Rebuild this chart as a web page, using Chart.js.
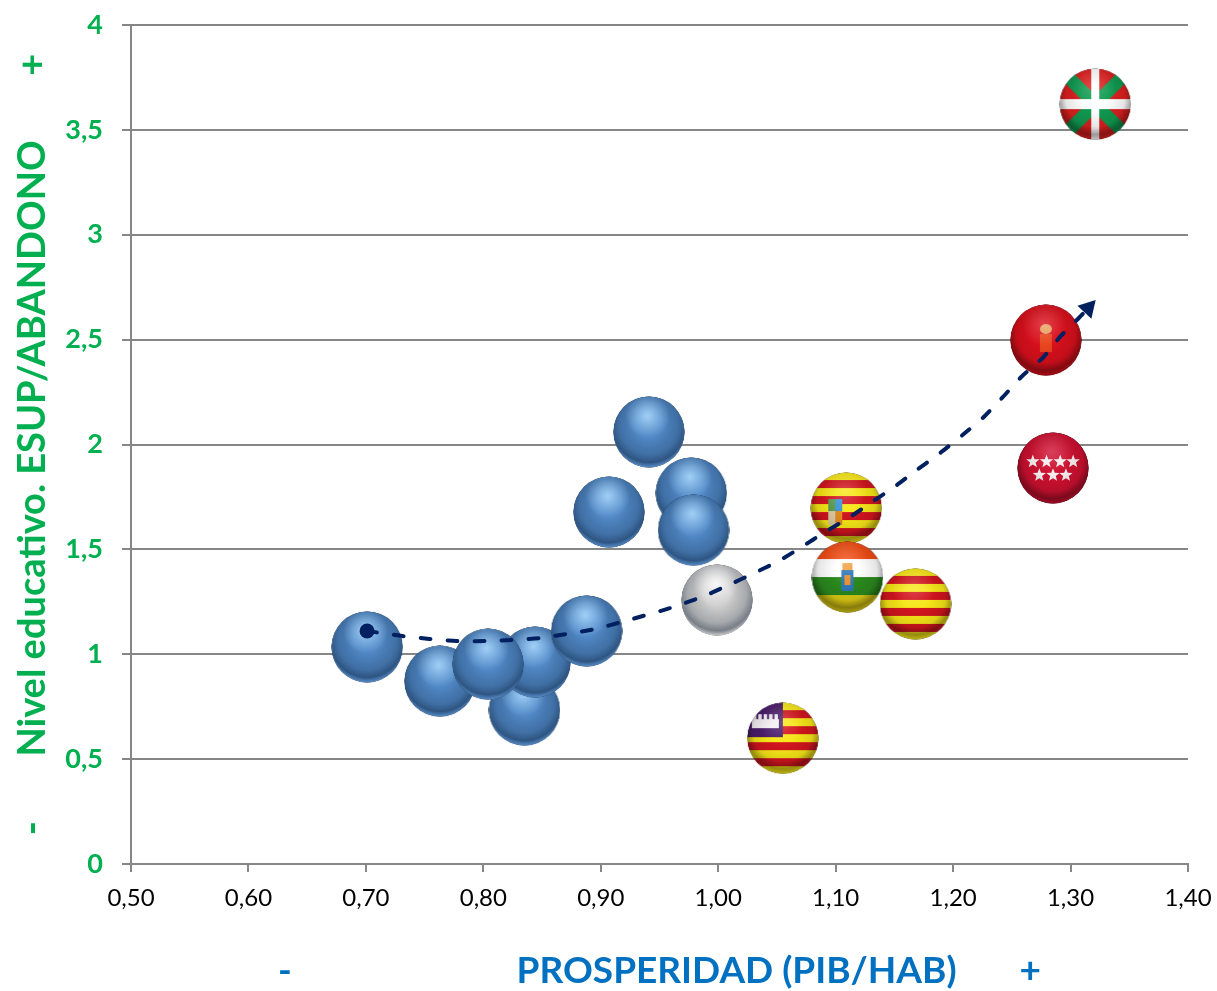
<!DOCTYPE html>
<html>
<head>
<meta charset="utf-8">
<title>Nivel educativo y prosperidad</title>
<script src="https://cdn.jsdelivr.net/npm/chart.js@4"></script>
<style>
body { margin: 0; background: #fff; }
canvas { display: block; }
</style>
</head>
<body>
<canvas id="myChart" width="1217" height="991"></canvas>
<script>
// region spheres, listed back to front
var sphereKinds = ['blue', 'blue', 'blue', 'blue', 'blue', 'blue', 'blue', 'blue', 'silver', 'blue', 'blue',
    'aragon', 'rioja', 'catalonia', 'baleares', 'euskadi', 'navarra', 'madrid'];
var sphereX = [0.835, 0.844, 0.763, 0.804, 0.701, 0.888, 0.941, 0.907, 0.999, 0.977, 0.979,
    1.109, 1.110, 1.168, 1.055, 1.321, 1.279, 1.285];
var sphereY = [0.734, 0.963, 0.872, 0.953, 1.035, 1.111, 2.060, 1.678, 1.259, 1.769, 1.592,
    1.697, 1.368, 1.240, 0.600, 3.623, 2.498, 1.888];

// trend line
var trendX = [0.701, 0.731, 0.754, 0.777, 0.801, 0.824, 0.848, 0.871, 0.895, 0.918, 0.959, 0.986, 1.007, 1.029,
    1.050, 1.071, 1.091, 1.111, 1.131, 1.151, 1.169, 1.189, 1.208, 1.227, 1.244, 1.258, 1.277, 1.291, 1.307, 1.315];
var trendY = [1.111, 1.087, 1.073, 1.063, 1.063, 1.068, 1.077, 1.097, 1.120, 1.154, 1.220, 1.273, 1.325, 1.383,
    1.440, 1.511, 1.583, 1.650, 1.726, 1.802, 1.878, 1.960, 2.045, 2.136, 2.236, 2.322, 2.417, 2.513, 2.603, 2.650];

var xTickLabels = ['0,50', '0,60', '0,70', '0,80', '0,90', '1,00', '1,10', '1,20', '1,30', '1,40'];
var yTickLabels = ['0', '0,5', '1', '1,5', '2', '2,5', '3', '3,5', '4'];

var xTitle = '-                         PROSPERIDAD (PIB/HAB)       +';
var yTitle = '-       Nivel educativo. ESUP/ABANDONO       +';

var GREEN = '#00B050', BLUE = '#0070C0', GRID = '#868686', NAVY = '#002060';
var RED = '#d2151f', YELLOW = '#f7e718';
var SIZE = 72;

function stripes(c) {
    for (var i = 0; i < 9; i++) {
        c.fillStyle = i % 2 ? RED : YELLOW;
        c.fillRect(0, i * SIZE / 9, SIZE, SIZE / 9 + 0.5);
    }
}

function star(c, x, y, r) {
    c.beginPath();
    for (var i = 0; i < 10; i++) {
        var a = -Math.PI / 2 + i * Math.PI / 5, d = i % 2 ? r * 0.42 : r;
        c.lineTo(x + d * Math.cos(a), y + d * Math.sin(a));
    }
    c.closePath();
    c.fill();
}

var painters = {
    blue: function(c) { c.fillStyle = '#5088c6'; c.fillRect(0, 0, SIZE, SIZE); },
    silver: function(c) { c.fillStyle = '#d0d0d0'; c.fillRect(0, 0, SIZE, SIZE); },
    catalonia: stripes,
    aragon: function(c) {
        stripes(c);
        c.fillStyle = '#d9c9a0'; c.fillRect(18, 27, 14, 26);
        c.fillStyle = '#3d94d6'; c.fillRect(25, 27, 7, 12);
        c.fillStyle = '#e08a20'; c.fillRect(25, 39, 7, 14);
        c.fillStyle = '#5a9a50'; c.fillRect(18, 27, 7, 12);
    },
    baleares: function(c) {
        stripes(c);
        c.fillStyle = '#4a1c6a'; c.fillRect(0, 0, 36, 35);
        c.fillStyle = '#f4f0f4'; c.fillRect(5, 17, 27, 9);
        for (var i = 0; i < 5; i++) { c.fillRect(6 + i * 5.4, 12, 3.4, 6); }
    },
    rioja: function(c) {
        c.fillStyle = '#f04c14'; c.fillRect(0, 0, SIZE, 18);
        c.fillStyle = '#ffffff'; c.fillRect(0, 18, SIZE, 18);
        c.fillStyle = '#2b8a1e'; c.fillRect(0, 36, SIZE, 18);
        c.fillStyle = '#e0ce14'; c.fillRect(0, 54, SIZE, 18);
        c.fillStyle = '#f0a040'; c.fillRect(31, 22, 10, 7);
        c.fillStyle = '#2f78b8'; c.fillRect(30, 29, 12, 21);
        c.fillStyle = '#e89030'; c.fillRect(33, 34, 6, 10);
    },
    euskadi: function(c) {
        c.fillStyle = '#dd2020'; c.fillRect(0, 0, SIZE, SIZE);
        c.strokeStyle = '#109a50'; c.lineWidth = 13;
        c.beginPath();
        c.moveTo(0, 0); c.lineTo(SIZE, SIZE);
        c.moveTo(SIZE, 0); c.lineTo(0, SIZE);
        c.stroke();
        c.fillStyle = '#ffffff';
        c.fillRect(32, 0, 8, SIZE);
        c.fillRect(0, 31, SIZE, 10);
    },
    navarra: function(c) {
        c.fillStyle = '#d8101c'; c.fillRect(0, 0, SIZE, SIZE);
        c.fillStyle = '#e8a060';
        c.beginPath(); c.ellipse(36, 25, 6, 5, 0, 0, Math.PI * 2); c.fill();
        c.fillStyle = '#e8441e'; c.fillRect(30, 30, 12, 18);
    },
    madrid: function(c) {
        c.fillStyle = '#cc1030'; c.fillRect(0, 0, SIZE, SIZE);
        c.fillStyle = '#f6eeee';
        [0.22, 0.41, 0.6, 0.78].forEach(function(p) { star(c, p * SIZE, 0.41 * SIZE, 7); });
        [0.31, 0.5, 0.68].forEach(function(p) { star(c, p * SIZE, 0.6 * SIZE, 7); });
    }
};

// flat picture on a round clip, then the 3D shading over it
function makeSphere(kind) {
    var flatCv = document.createElement('canvas');
    flatCv.width = SIZE;
    flatCv.height = SIZE;
    painters[kind](flatCv.getContext('2d'));

    var cv = document.createElement('canvas');
    cv.width = SIZE;
    cv.height = SIZE;
    var c = cv.getContext('2d');
    var m = SIZE / 2;
    c.beginPath();
    c.arc(m, m, m - 0.5, 0, Math.PI * 2);
    c.clip();
    c.fillStyle = '#000';
    c.fillRect(0, 0, SIZE, SIZE);
    c.filter = 'blur(0.7px)';
    c.drawImage(flatCv, 0, 0);
    c.filter = 'none';

    var flat = kind === 'blue' || kind === 'silver';
    var rim = kind === 'silver' ? 'rgba(255,255,255,0.55)' : 'rgba(120,170,230,0.25)';
    var shade = c.createRadialGradient(m, m * 0.82, m * 0.35, m, m * 0.82, m * 1.2);
    shade.addColorStop(0, 'rgba(0,0,0,0)');
    shade.addColorStop(0.55, flat ? 'rgba(0,15,35,0.2)' : 'rgba(0,0,0,0.1)');
    shade.addColorStop(0.8, flat ? 'rgba(0,15,35,0.42)' : 'rgba(0,0,0,0.4)');
    shade.addColorStop(1, flat ? rim : 'rgba(0,0,0,0.2)');
    c.fillStyle = shade;
    c.fillRect(0, 0, SIZE, SIZE);

    var glow = c.createRadialGradient(m * 0.96, m * 0.56, 0, m * 0.96, m * 0.56, m * 0.62);
    var w = kind === 'blue' ? 'rgba(175,220,255,' : 'rgba(255,255,255,';
    glow.addColorStop(0, w + (flat ? '0.85)' : '0.2)'));
    glow.addColorStop(1, w + '0)');
    c.fillStyle = glow;
    c.fillRect(0, 0, SIZE, SIZE);
    return cv;
}

function toPoints(xs, ys) {
    return xs.map(function(x, i) { return { x: x, y: ys[i] }; });
}

var ctx = document.getElementById('myChart').getContext('2d');
var myChart = new Chart(ctx, {
    type: 'scatter',
    data: {
        datasets: [{
            // first dataset is drawn on top
            data: toPoints(trendX, trendY),
            showLine: true,
            borderColor: NAVY,
            borderWidth: 4,
            borderDash: [10, 17],
            borderCapStyle: 'round',
            tension: 0.2,
            backgroundColor: NAVY,
            pointBorderWidth: 0,
            pointStyle: trendX.map(function(v, i) {
                return i === trendX.length - 1 ? 'triangle' : 'circle';
            }),
            pointRadius: trendX.map(function(v, i) {
                return i === 0 ? 7.5 : i === trendX.length - 1 ? 11 : 0;
            }),
            pointRotation: 43
        }, {
            data: toPoints(sphereX, sphereY),
            showLine: false,
            pointStyle: sphereKinds.map(makeSphere),
            pointRadius: SIZE / 2
        }]
    },
    options: {
        responsive: false,
        animation: false,
        layout: {
            autoPadding: false, // the big spheres would otherwise push the axes in
            padding: { top: 25, right: 29 }
        },
        plugins: {
            legend: { display: false },
            tooltip: { enabled: false }
        },
        scales: {
            x: {
                min: 0.5,
                max: 1.4,
                afterFit: function(scale) {
                    scale.height = 127;
                    scale.paddingRight = 0;
                },
                border: { color: GRID, width: 2 },
                grid: { color: GRID, lineWidth: 2, drawOnChartArea: false, tickLength: 8 },
                ticks: {
                    stepSize: 0.1,
                    autoSkip: false,
                    maxRotation: 0,
                    padding: 12,
                    color: '#000',
                    font: { family: 'Lato', size: 24 },
                    callback: function(value, index) { return xTickLabels[index]; }
                },
                title: {
                    display: true,
                    text: xTitle,
                    color: BLUE,
                    font: { family: 'Lato', size: 37, weight: 'bold', lineHeight: 1.1 },
                    padding: 0
                }
            },
            y: {
                min: 0,
                max: 4,
                afterFit: function(scale) {
                    scale.width = 131;
                    scale.paddingTop = 0;
                },
                border: { color: GRID, width: 2 },
                grid: { color: GRID, lineWidth: 2, tickLength: 9 },
                ticks: {
                    stepSize: 0.5,
                    padding: 19,
                    color: GREEN,
                    font: { family: 'Lato', size: 27, weight: 'bold' },
                    callback: function(value, index) { return yTickLabels[index]; }
                },
                title: {
                    display: true,
                    text: yTitle,
                    color: GREEN,
                    font: { family: 'Lato', size: 38, weight: 'bold' },
                    padding: { top: 10, bottom: 0 }
                }
            }
        }
    }
});
</script>
</body>
</html>
